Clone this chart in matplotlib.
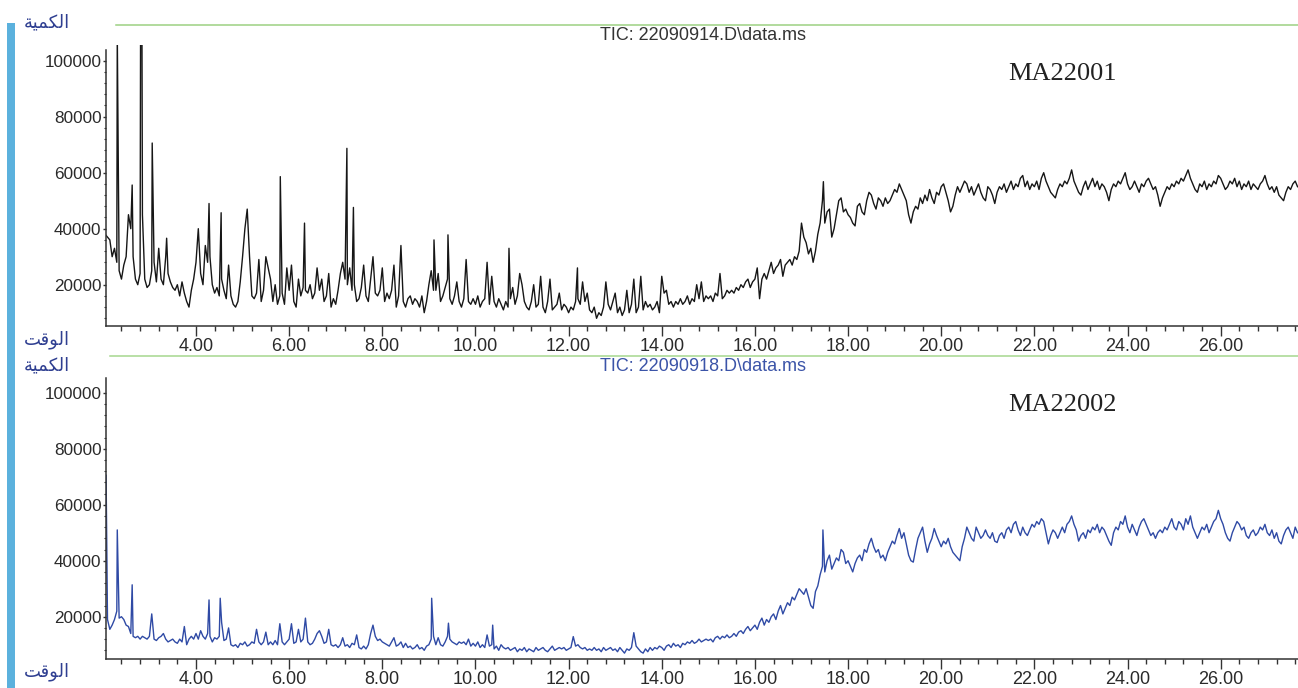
import numpy as np
import matplotlib
matplotlib.use("Agg")
import matplotlib.pyplot as plt

# TIC traces, values in thousands of counts, one row per minute, 0.05 min apart
# first row starts at 2.05 min, every other row at the whole minute
tic1_rows = [
    [38, 37, 36, 30, 33, 28, 25, 22, 27, 30, 45, 40, 30, 22, 20, 24, 45, 22, 19],
    [20, 25, 28, 21, 33, 22, 20, 30, 24, 21, 19, 18, 20, 16, 21, 17, 14, 12, 18, 22],
    [28, 40, 24, 20, 34, 28, 30, 20, 17, 19, 16, 22, 18, 15, 27, 16, 13, 12, 14, 21],
    [30, 40, 47, 30, 16, 15, 17, 29, 14, 18, 30, 26, 22, 14, 20, 13, 16, 17, 13, 26],
    [18, 27, 14, 12, 22, 16, 19, 18, 17, 20, 15, 17, 26, 18, 22, 14, 16, 24, 12, 15],
    [13, 18, 24, 28, 22, 20, 26, 18, 20, 14, 15, 19, 27, 16, 14, 22, 30, 17, 16, 18],
    [26, 14, 17, 15, 18, 27, 12, 16, 34, 14, 12, 15, 16, 13, 15, 14, 12, 16, 10, 14],
    [20, 25, 18, 18, 24, 14, 16, 19, 22, 15, 13, 16, 21, 14, 12, 15, 29, 14, 13, 15],
    [13, 16, 12, 14, 15, 28, 13, 23, 14, 12, 15, 13, 11, 14, 12, 15, 19, 13, 16, 24],
    [20, 14, 12, 11, 14, 20, 12, 13, 23, 12, 10, 14, 22, 11, 12, 13, 17, 11, 13, 12],
    [10, 12, 11, 14, 15, 13, 21, 14, 17, 11, 10, 12, 8, 10, 9, 12, 21, 13, 11, 14],
    [17, 10, 12, 9, 11, 18, 10, 13, 22, 10, 12, 23, 11, 14, 12, 13, 11, 12, 14, 10],
    [23, 17, 18, 13, 14, 12, 14, 13, 15, 13, 14, 16, 13, 15, 14, 20, 15, 21, 14, 16],
    [15, 16, 14, 17, 16, 24, 15, 16, 18, 17, 18, 17, 19, 18, 20, 19, 21, 22, 19, 21],
    [22, 26, 15, 22, 24, 22, 25, 28, 24, 26, 27, 29, 23, 27, 28, 29, 27, 30, 29, 32],
    [42, 37, 35, 31, 33, 28, 32, 38, 42, 50, 42, 46, 47, 37, 40, 45, 50, 51, 46, 47],
    [45, 44, 42, 41, 48, 49, 46, 45, 50, 53, 52, 49, 47, 51, 50, 48, 51, 49, 50, 52],
    [54, 53, 56, 54, 52, 50, 45, 42, 46, 48, 47, 51, 49, 52, 50, 54, 51, 49, 53, 52],
    [55, 56, 53, 50, 46, 48, 52, 55, 53, 55, 57, 56, 53, 55, 52, 54, 56, 53, 51, 50],
    [55, 54, 52, 49, 53, 55, 54, 56, 53, 55, 57, 54, 56, 55, 58, 59, 55, 57, 54, 56],
    [55, 57, 54, 58, 60, 57, 55, 53, 52, 51, 54, 56, 55, 57, 56, 58, 61, 57, 55, 53],
    [52, 55, 57, 54, 56, 58, 55, 57, 54, 56, 55, 53, 50, 54, 56, 55, 57, 56, 58, 60],
    [56, 54, 55, 57, 55, 53, 56, 55, 57, 58, 56, 54, 55, 52, 48, 51, 53, 55, 54, 56],
    [55, 57, 56, 58, 57, 59, 61, 58, 56, 54, 53, 56, 55, 57, 54, 56, 55, 57, 56, 59],
    [58, 56, 54, 55, 57, 56, 58, 55, 57, 54, 56, 55, 57, 54, 56, 55, 54, 56, 57, 59],
    [56, 54, 55, 53, 55, 52, 51, 50, 53, 55, 54, 56, 57, 55],
]
tic1_peak_t = [2.31, 2.63, 2.81, 2.84, 3.06, 3.37, 4.28, 4.54, 5.81, 6.33,
               7.24, 7.38, 9.11, 9.41, 10.72, 12.19, 17.47]
tic1_peak_v = [110, 55.6, 110, 110, 70.6, 36.6, 49, 45.7, 58.6, 42,
               68.7, 47.6, 36, 37.8, 33, 26, 56.8]

tic2_rows = [
    [22, 19, 15.5, 17, 19, 22, 19.5, 20, 19, 17, 16.5, 14, 13, 12.5, 13, 12, 13, 12.5, 12],
    [13, 21, 12, 11.5, 12.5, 13, 14, 12, 11, 11.5, 12, 11, 10.5, 12, 11, 16.5, 10, 12, 13, 12],
    [14, 12, 15, 13, 12, 14, 13, 11, 12.5, 12, 13, 18, 11.5, 12, 16, 10, 9.5, 10, 9, 10.5],
    [10, 11, 9.5, 10, 11, 10.5, 15.5, 11, 10, 11, 14.5, 10, 11, 10, 11.5, 10, 17.5, 11, 10, 11],
    [12, 17.5, 10.5, 11, 15.5, 11, 12, 19.5, 11, 10, 10.5, 12, 14, 15, 13, 10.5, 11, 15.5, 10, 9.5],
    [10, 9, 10, 12.5, 9.5, 10, 9, 10.5, 10, 13.5, 9, 8.5, 9.5, 8.5, 10, 14, 17, 13, 11.5, 12],
    [11, 10.5, 10, 9.5, 11, 12.5, 9.5, 10, 11, 9, 10.5, 9, 9.5, 8.5, 9, 10, 8.5, 9, 8, 9.5],
    [10, 12, 13, 10, 12.5, 10, 9.5, 11, 13, 12, 11, 10.5, 10, 11, 10.5, 11, 10, 12, 9.5, 10.5],
    [9.5, 11, 9, 10, 9, 13.5, 9.5, 10, 8.5, 9.5, 8, 10, 9, 8.5, 9, 8, 8.5, 9, 7.5, 8.5],
    [8, 9, 7.5, 8.5, 8, 7.5, 9, 8, 8.5, 9, 8, 7.5, 8.5, 9.5, 8, 8.5, 9, 8.5, 9, 8],
    [8.5, 9, 12.9, 9.5, 10, 9, 8.5, 9, 8, 8.5, 8, 9, 8, 8.5, 7.5, 9, 8, 8.5, 9, 8],
    [8.5, 7.5, 9, 8, 7, 8.5, 8, 9, 14.3, 9.5, 8.5, 7.5, 7, 8.5, 7.5, 9, 8, 9, 8.5, 9.5],
    [9, 8, 9.5, 10, 9, 10.5, 9.5, 10, 9, 10.5, 10, 11, 10.5, 11.5, 10.5, 11, 12, 11, 11.5, 12],
    [11.5, 12, 11, 12.5, 13, 12, 13, 12.5, 13.5, 12.5, 13, 14, 13, 14.5, 15, 14, 15.5, 16.5, 15, 16],
    [17, 15.5, 18, 19.5, 17, 19, 18, 20, 21, 19, 22, 24, 21, 23, 25, 24, 27, 26, 28, 30],
    [29, 28, 30, 27, 24, 23, 29, 31, 35, 38, 36, 40, 42, 37, 39, 41, 40, 44, 43, 39],
    [40, 38, 36, 39, 41, 42, 40, 44, 43, 46, 48, 45, 43, 44, 41, 42, 40, 43, 45, 47],
    [46, 49, 51.5, 48, 50, 46, 42, 40, 39.5, 44, 48, 50, 52, 47, 43, 46, 48, 51.5, 49, 47],
    [45, 47, 46, 48, 45, 43, 42, 41, 40, 45, 48, 52, 50, 48, 47, 52, 50, 48, 49, 51],
    [49, 48, 50, 47, 46.5, 49, 50, 48, 51, 52, 50, 53, 54, 51, 49, 52, 50, 49, 51, 53],
    [52, 54, 53, 55, 54, 50, 46, 49, 51, 50, 48, 50, 52, 50, 53, 54, 56, 53, 51, 47],
    [49, 50, 48, 51, 50, 52, 51, 53, 50, 52, 51, 49, 47, 45.5, 50, 52, 51, 54, 53, 56],
    [52, 50, 53, 51, 49, 52, 54, 55, 53, 51, 49, 50, 48, 50, 51, 50, 52, 51, 53, 55],
    [52, 51, 54, 53, 51, 55, 53, 56, 52, 50, 48, 50, 52, 51, 53, 50, 52, 54, 55, 58],
    [55, 53, 50, 48, 47, 50, 52, 54, 53, 51, 52, 49, 48, 50, 51, 49, 50, 52, 51, 53],
    [50, 49, 51, 48, 50, 47, 46, 49, 51, 52, 50, 48, 52, 50],
]
tic2_peak_t = [2.07, 2.31, 2.63, 4.28, 4.52, 9.06, 9.42, 10.37, 17.46]
tic2_peak_v = [70.6, 51, 31.4, 26, 26.6, 26.6, 17.7, 17, 51]

yticks = [20000, 40000, 60000, 80000, 100000]
xticks = [4, 6, 8, 10, 12, 14, 16, 18, 20, 22, 24, 26]

titles = ["TIC: 22090914.D\\data.ms", "TIC: 22090918.D\\data.ms"]
samples = ["MA22001", "MA22002"]
# Arabic in presentation forms, visual order (matplotlib does no shaping)
lbl_amount = "\uFE94\uFEF4\uFEE4\uFEDC\uFEDF\uFE8D"   # الكمية
lbl_time = "\uFE96\uFED7\uFEEE\uFEDF\uFE8D"           # الوقت


def build(rows, pk_t, pk_v):
    t, v = [], []
    for i, r in enumerate(rows):
        start = 2.05 if i == 0 else 2 + i
        t += list(start + 0.05 * np.arange(len(r)))
        v += r
    t = np.concatenate([t, pk_t])
    v = np.concatenate([v, pk_v]) * 1000
    o = np.argsort(t)
    return t[o], v[o]


W, H = 1298, 688
fig = plt.figure(figsize=(W / 100, H / 100), dpi=100)

axis_col = "#333333"
line_cols = ["#161616", "#2f4aa5"]
title_cols = ["#333333", "#3b54a8"]
# pixel geometry: (x-axis y pixel, value at axis, top of spine value, ylim top)
panels = [(326, 5250, 103800, 105500), (659, 4900, 105250, 105250)]
data = [build(tic1_rows, tic1_peak_t, tic1_peak_v),
        build(tic2_rows, tic2_peak_t, tic2_peak_v)]

for k, (ybase, y0, ytop, ylim1) in enumerate(panels):
    hpx = (ylim1 - y0) / 20000 * 56
    ax = fig.add_axes([106 / W, 1 - ybase / H, 1 - 106 / W, hpx / H])
    t, v = data[k]
    ax.plot(t, v, color=line_cols[k], lw=1.0)
    ax.set_xlim(2.068, 27.66)
    ax.set_ylim(y0, ylim1)
    for s in ["top", "right"]:
        ax.spines[s].set_visible(False)
    ax.spines["left"].set_bounds(y0, ytop)
    for s in ["left", "bottom"]:
        ax.spines[s].set_color(axis_col)
        ax.spines[s].set_linewidth(1.1)
    ax.set_xticks(xticks)
    ax.set_xticklabels([f"{x:.2f}" for x in xticks])
    ax.set_xticks(np.arange(2.4, 27.7, 0.4), minor=True)
    ax.set_yticks(yticks)
    ax.set_yticklabels([str(y) for y in yticks])
    ax.set_yticks(np.arange(8000, 104000, 4000), minor=True)
    ax.tick_params(axis="x", which="major", length=7, width=1, color=axis_col,
                   pad=2, labelsize=13, labelcolor="#2a2a2a")
    ax.tick_params(axis="x", which="minor", length=3.6, width=1, color=axis_col)
    ax.tick_params(axis="y", which="major", length=2.5, width=1, color=axis_col,
                   pad=0.8, labelsize=12.3, labelcolor="#2a2a2a")
    ax.tick_params(axis="y", which="minor", length=1.5, width=0.8, color=axis_col)
    for lab in ax.get_xticklabels() + ax.get_yticklabels():
        lab.set_family("Liberation Sans")
    ax.patch.set_alpha(0)

# header lines, titles and sample names
fig.add_artist(plt.Line2D([116 / W, 1], [1 - 25 / H] * 2, color="#9cd182", lw=1.1))
fig.add_artist(plt.Line2D([110 / W, 1], [1 - 356 / H] * 2, color="#a6d78e", lw=1.1))
for k, (ty, sy) in enumerate([(36, 74), (367, 405)]):
    fig.text(703 / W, 1 - ty / H, titles[k], ha="center", va="center",
             fontsize=13, color=title_cols[k], family="Liberation Sans")
    fig.text(1062 / W, 1 - sy / H, samples[k], ha="center", va="center",
             fontsize=19, color="#222222", family="Liberation Serif")

# left blue band with Arabic axis labels
fig.add_artist(plt.Rectangle((7 / W, 0), 8 / W, 1 - 23 / H, color="#5bb1dd", lw=0))
for txt, y in [(lbl_amount, 22), (lbl_time, 340), (lbl_amount, 365), (lbl_time, 672)]:
    fig.text(47 / W, 1 - y / H, txt, ha="center", va="center", fontsize=13,
             color="#2f3f91", family="DejaVu Sans")

fig.savefig("out.png", dpi=100)
